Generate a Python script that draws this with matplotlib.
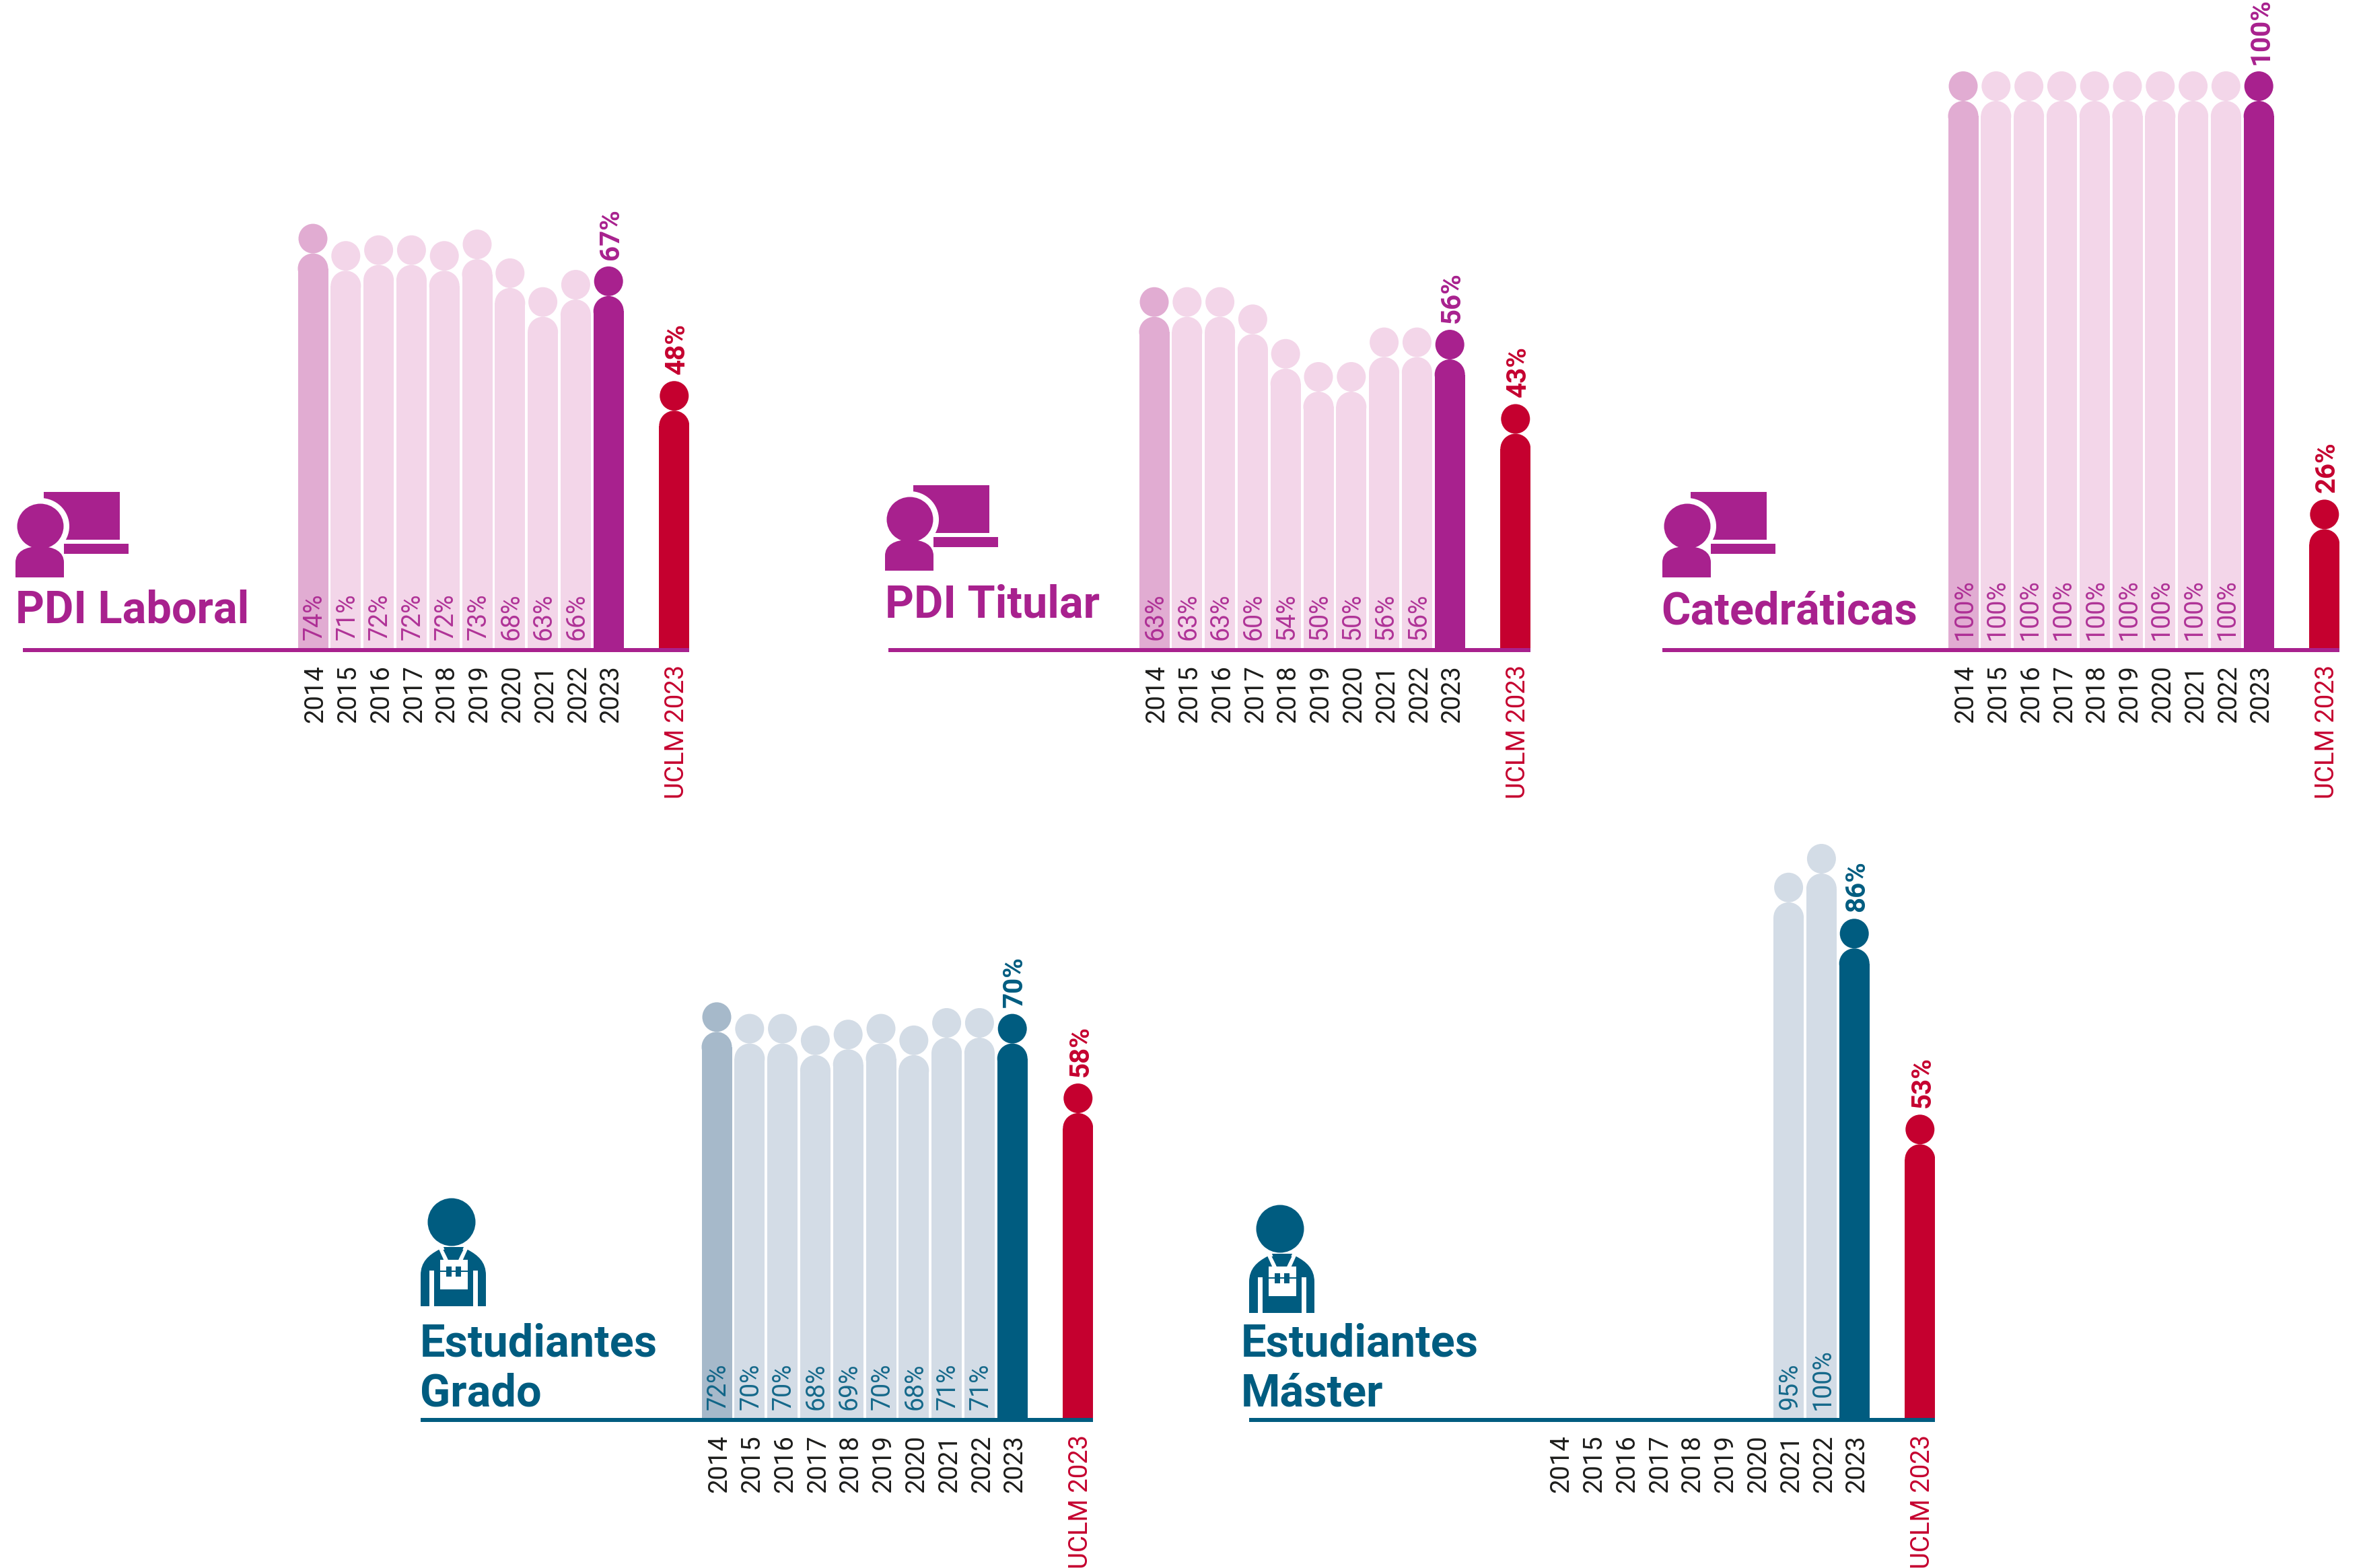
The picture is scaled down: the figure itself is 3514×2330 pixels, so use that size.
import matplotlib
matplotlib.use('Agg')
import matplotlib.pyplot as plt
from matplotlib.patches import Ellipse, PathPatch, Rectangle
from matplotlib.path import Path
from matplotlib.transforms import ScaledTranslation

plt.rcParams['font.family'] = ['Roboto', 'DejaVu Sans']

W, H = 3514, 2330

years = ['2014', '2015', '2016', '2017', '2018', '2019', '2020', '2021', '2022', '2023']
uclm_label = 'UCLM 2023'

# printed percentages
laboral = [74, 71, 72, 72, 72, 73, 68, 63, 66, 67]
titular = [63, 63, 63, 60, 54, 50, 50, 56, 56, 56]
catedraticas = [100, 100, 100, 100, 100, 100, 100, 100, 100, 100]
grado = [72, 70, 70, 68, 69, 70, 68, 71, 71, 70]
master = [None, None, None, None, None, None, None, 95, 100, 86]

uclm_laboral = 48
uclm_titular = 43
uclm_catedraticas = 26
uclm_grado = 58
uclm_master = 53

# heights, a few differ a little from the printed number
laboral_h = [74, 71, 72, 72, 71, 73, 68, 63, 66, 66.6]
titular_h = [63, 63, 63, 60, 54, 50, 50, 56, 56, 55.6]
grado_h = [72, 70, 70, 68, 69, 70, 68, 71, 71, 70]
master_h = [None, None, None, None, None, None, None, 95, 100, 87]
uclm_laboral_h = 46.7
uclm_titular_h = 42.7

RED = '#C5002F'
PURPLE = ('#A8218E', '#E1ACD2', '#F3D6E9')
BLUE = ('#005C80', '#A6B9CA', '#D3DCE6')

# sizes in pixels of the final image
PX_X = 48.8   # one bar step
BODY_W = 45
HEAD_W = 43
HEAD_H = 44
UCLM_X = 11


def px(v):
    return v * 72 / 100


def draw_panel(values, heights, uclm, uclm_h, colors, first_bar, line_left, baseline, px_y=8.56):
    main, first, light = colors
    right = UCLM_X + 0.46
    left = (line_left - first_bar) / PX_X
    ax = fig.add_axes([(first_bar + left * PX_X) / W, (H - baseline) / H,
                       (right - left) * PX_X / W, 105 * px_y / H])
    ax.set_xlim(left, right)
    ax.set_ylim(0, 105)
    ax.patch.set_alpha(0)
    for s in ax.spines.values():
        s.set_visible(False)
    ax.set_yticks([])

    xs = list(range(len(years))) + [UCLM_X]
    vals = list(values) + [uclm]
    tops = list(heights) + [uclm_h]
    for i, (x, v, t) in enumerate(zip(xs, vals, tops)):
        if v is None:
            continue
        last = i >= len(years) - 1
        col = RED if x == UCLM_X else main if last else first if i == 0 else light
        w = BODY_W / PX_X
        shoulder = t - (HEAD_H + BODY_W / 2) / px_y
        ax.bar(x, shoulder, width=w, color=col, linewidth=0, zorder=2)
        ax.add_patch(Ellipse((x, shoulder), w, BODY_W / px_y, color=col, lw=0, zorder=2))
        ax.add_patch(Ellipse((x, t - HEAD_H / 2 / px_y), HEAD_W / PX_X, HEAD_H / px_y,
                             color=col, lw=0, zorder=3))
        if last:
            ax.annotate(f'{v}%', (x, t), xytext=(px(4), px(10)), textcoords='offset points',
                        rotation=90, ha='center', va='bottom', fontsize=29, fontweight='bold',
                        color=RED if x == UCLM_X else main, zorder=4)
        else:
            ax.annotate(f'{v}%', (x, 0), xytext=(px(2), px(15)), textcoords='offset points',
                        rotation=90, ha='center', va='bottom', fontsize=27, fontweight='normal',
                        color=main, alpha=0.9, zorder=4)

    ax.axhline(0, color=main, lw=px(6), solid_capstyle='butt', zorder=5, clip_on=False)
    ax.set_xticks(xs)
    ax.set_xticklabels(years + [uclm_label], rotation=90, fontsize=27.5, color='#1D1D1B')
    ax.get_xticklabels()[-1].set_color(RED)
    ax.tick_params(axis='x', length=0, pad=px(22))
    nudge = ScaledTranslation(4 / 100, 0, fig.dpi_scale_trans)
    for lab in ax.get_xticklabels():
        lab.set_transform(lab.get_transform() + nudge)


def teacher_icon(x0, y0, col):
    # x0, y0 = bottom left corner of the icon
    bg.add_patch(Rectangle((x0 + 42, y0 - 127), 113, 71, color=col, lw=0))
    bg.add_patch(Rectangle((x0 + 72, y0 - 50), 96, 15, color=col, lw=0))
    bg.add_patch(Ellipse((x0 + 37, y0 - 76), 86, 84, color='white', lw=0))
    bg.add_patch(Ellipse((x0 + 37, y0 - 76), 69, 67, color=col, lw=0))
    v = [(x0, y0), (x0, y0 - 22), (x0, y0 - 38), (x0 + 14, y0 - 46), (x0 + 36, y0 - 46),
         (x0 + 58, y0 - 46), (x0 + 72, y0 - 38), (x0 + 72, y0 - 22), (x0 + 72, y0), (x0, y0)]
    c = [Path.MOVETO, Path.LINETO, Path.CURVE4, Path.CURVE4, Path.CURVE4, Path.CURVE4, Path.CURVE4,
         Path.CURVE4, Path.LINETO, Path.CLOSEPOLY]
    bg.add_patch(PathPatch(Path(v, c), color=col, lw=0))


def student_icon(x0, y0, col):
    # x0, y0 = bottom left corner of the icon
    bg.add_patch(Ellipse((x0 + 46, y0 - 125), 71, 71, color=col, lw=0))
    v = [(x0, y0), (x0, y0 - 46), (x0, y0 - 66), (x0 + 12, y0 - 76), (x0 + 27, y0 - 84),
         (x0 + 70, y0 - 84), (x0 + 85, y0 - 76), (x0 + 97, y0 - 66), (x0 + 97, y0 - 46),
         (x0 + 97, y0), (x0, y0)]
    c = [Path.MOVETO, Path.LINETO, Path.CURVE4, Path.CURVE4, Path.CURVE4, Path.LINETO,
         Path.CURVE4, Path.CURVE4, Path.CURVE4, Path.LINETO, Path.CLOSEPOLY]
    bg.add_patch(PathPatch(Path(v, c), color=col, lw=0))
    # straps and bib
    strap_l = [(x0 + 27, y0 - 85), (x0 + 33, y0 - 85), (x0 + 43, y0 - 65), (x0 + 36, y0 - 65)]
    strap_r = [(x0 + 70, y0 - 85), (x0 + 64, y0 - 85), (x0 + 54, y0 - 65), (x0 + 61, y0 - 65)]
    for s in (strap_l, strap_r):
        bg.add_patch(plt.Polygon(s, color='white', lw=0))
    bg.add_patch(plt.Polygon([(x0 + 34, y0 - 88), (x0 + 64, y0 - 88), (x0 + 56, y0 - 69), (x0 + 41, y0 - 69)],
                             color=col, lw=0))
    bg.add_patch(Rectangle((x0 + 29, y0 - 69), 41, 44, color='white', lw=0))
    bg.add_patch(Rectangle((x0 + 12.5, y0 - 53), 7, 53, color='white', lw=0))
    bg.add_patch(Rectangle((x0 + 78, y0 - 53), 7, 53, color='white', lw=0))
    bg.add_patch(Rectangle((x0 + 29, y0 - 53), 41, 1.5, color=col, lw=0))
    bg.add_patch(Rectangle((x0 + 38, y0 - 59), 8, 15, color=col, lw=0))
    bg.add_patch(Rectangle((x0 + 52, y0 - 59), 8, 15, color=col, lw=0))


fig = plt.figure(figsize=(W / 100, H / 100), dpi=100, facecolor='white')

bg = fig.add_axes([0, 0, 1, 1])
bg.set_xlim(0, W)
bg.set_ylim(H, 0)
bg.axis('off')

draw_panel(laboral, laboral_h, uclm_laboral, uclm_laboral_h, PURPLE, 465, 34, 966)
draw_panel(titular, titular_h, uclm_titular, uclm_titular_h, PURPLE, 1715, 1320, 966)
draw_panel(catedraticas, catedraticas, uclm_catedraticas, uclm_catedraticas, PURPLE, 2917, 2470, 966, px_y=8.6)
draw_panel(grado, grado_h, uclm_grado, uclm_grado, BLUE, 1065, 625, 2110, px_y=8.62)
draw_panel(master, master_h, uclm_master, uclm_master, BLUE, 2316, 1856, 2110)

teacher_icon(23, 858, PURPLE[0])
teacher_icon(1315, 848, PURPLE[0])
teacher_icon(2470, 858, PURPLE[0])
student_icon(625, 1941, BLUE[0])
student_icon(1856, 1951, BLUE[0])

title_kw = dict(fontsize=48, fontweight='bold', va='baseline', ha='left')
bg.text(23, 926, 'PDI Laboral', color=PURPLE[0], **title_kw)
bg.text(1315, 918, 'PDI Titular', color=PURPLE[0], **title_kw)
bg.text(2468, 927, 'Catedráticas', color=PURPLE[0], **title_kw)
bg.text(624, 2016, 'Estudiantes', color=BLUE[0], **title_kw)
bg.text(624, 2089, 'Grado', color=BLUE[0], **title_kw)
bg.text(1844, 2016, 'Estudiantes', color=BLUE[0], **title_kw)
bg.text(1844, 2089, 'Máster', color=BLUE[0], **title_kw)

fig.savefig('out.png', dpi=100)
